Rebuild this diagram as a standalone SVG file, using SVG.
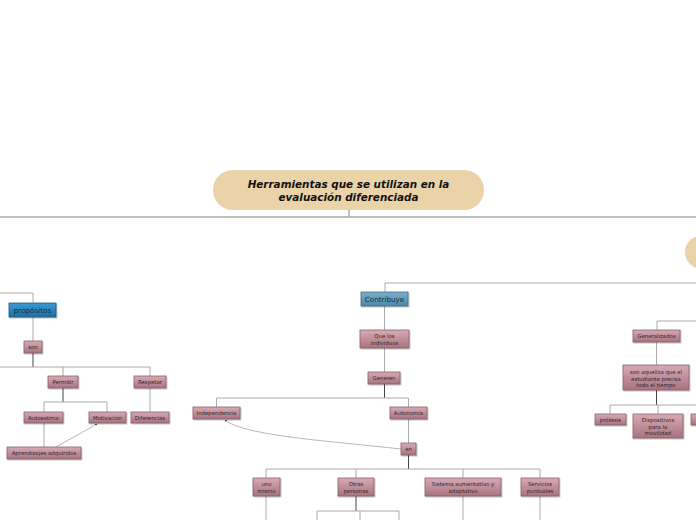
<svg xmlns="http://www.w3.org/2000/svg" width="696" height="520" viewBox="0 0 696 520">
<defs>
<linearGradient id="pink" x1="0" y1="0" x2="0" y2="1"><stop offset="0" stop-color="#d6abb5"/><stop offset="1" stop-color="#a9727f"/></linearGradient>
<linearGradient id="blue" x1="0" y1="0" x2="0" y2="1"><stop offset="0" stop-color="#3a9ad3"/><stop offset="1" stop-color="#1c6fa6"/></linearGradient>
<linearGradient id="blue2" x1="0" y1="0" x2="0" y2="1"><stop offset="0" stop-color="#7aaecb"/><stop offset="1" stop-color="#4d88a8"/></linearGradient>
<filter id="sh" x="-20%" y="-20%" width="140%" height="150%"><feDropShadow dx="0.8" dy="1" stdDeviation="0.6" flood-color="#000" flood-opacity="0.3"/></filter>
<marker id="arr" viewBox="0 0 6 6" refX="5" refY="3" markerWidth="4" markerHeight="4" orient="auto"><path d="M0 0 L6 3 L0 6 z" fill="#444"/></marker>
<style>
.ln{fill:none;stroke:#aaa;stroke-width:1}
.dk{fill:none;stroke:#444;stroke-width:1}
.main{fill:none;stroke:#aaa;stroke-width:1.5}
.thin{fill:none;stroke:#888;stroke-width:0.6}
.pk{fill:url(#pink);stroke:#87606b;stroke-width:0.8;filter:url(#sh)}
.bl{fill:url(#blue);stroke:#1d5a80;stroke-width:0.8;filter:url(#sh)}
.bl2{fill:url(#blue2);stroke:#3e6e88;stroke-width:0.8;filter:url(#sh)}
.t{font-family:"DejaVu Sans",Verdana,sans-serif;font-size:5.4px;fill:#2a2a2a;text-anchor:middle}
.tb{font-family:"DejaVu Sans",Verdana,sans-serif;font-size:7.2px;fill:#1a2a3a;text-anchor:middle}
.title{font-family:"DejaVu Sans",Verdana,sans-serif;font-size:10.4px;font-weight:bold;font-style:italic;fill:#111;text-anchor:middle}
</style>
</defs>
<rect width="696" height="520" fill="#fff"/>
<g id="connectors">
<path class="main" d="M0 217 H696 M349 210 V217"/>
<path class="ln" d="M0 293 H33 V303 M33 317 V341"/>
<path class="dk" d="M33 353 V367"/>
<path class="ln" d="M0 367 H150 M63 367 V376 M150 367 V376"/>
<path class="dk" d="M63 388 V402"/>
<path class="ln" d="M44 402 H107 M44 402 V412 M107 402 V412 M150 388 V412 M44 423 V447"/>
<path class="thin" d="M56 447 L97 424" marker-end="url(#arr)"/>
<path class="ln" d="M385 283 H696 M385 283 V292 M384.5 306 V330 M384.5 348 V372"/>
<path class="dk" d="M384.5 384 V398"/>
<path class="ln" d="M216.5 398 H408.5 M216.5 398 V407 M408.5 398 V407 M408.5 419 V443"/>
<path class="thin" d="M401 449 C330 441 245 436 225 420" marker-end="url(#arr)"/>
<path class="dk" d="M408.5 455 V469"/>
<path class="ln" d="M266 469 H540 M266 469 V478 M356 469 V478 M463 469 V478 M540 469 V478 M266 496 V520 M463 496 V520 M540 496 V520"/>
<path class="dk" d="M356 496 V511"/>
<path class="ln" d="M317 511 H399 M317 511 V520 M360 511 V520 M399 511 V520"/>
<path class="ln" d="M657 321 H696 M657 321 V330 M656.5 342 V365"/>
<path class="dk" d="M656.5 390 V405"/>
<path class="ln" d="M610 405 H696 M610 405 V414 M658 405 V414"/>
</g>
<g id="title"><rect x="213" y="170" width="271" height="40" rx="20" fill="#ead3a8"/>
<text class="title" x="348.5" y="188">Herramientas que se utilizan en la</text>
<text class="title" x="348.5" y="201">evaluación diferenciada</text></g>
<g id="bubble-right"><rect x="685" y="236" width="60" height="32" rx="16" fill="#ead3a8" filter="url(#sh)"/></g>
<g id="propositos"><rect class="bl" x="9" y="303" width="47" height="14"/><text class="tb" x="32.5" y="312.5">propósitos</text></g>
<g id="son"><rect class="pk" x="24" y="341" width="18" height="12"/><text class="t" x="33" y="349">son</text></g>
<g id="permitir"><rect class="pk" x="48" y="376" width="30" height="12"/><text class="t" x="63" y="384">Permitir</text></g>
<g id="respetar"><rect class="pk" x="134" y="376" width="32" height="12"/><text class="t" x="150" y="384">Respetar</text></g>
<g id="autoestima"><rect class="pk" x="24" y="412" width="39" height="11"/><text class="t" x="43.5" y="419.5">Autoestima</text></g>
<g id="motivacion"><rect class="pk" x="89" y="412" width="37" height="11"/><text class="t" x="107.5" y="419.5">Motivación</text></g>
<g id="diferencias"><rect class="pk" x="131" y="412" width="38" height="11"/><text class="t" x="150" y="419.5">Diferencias</text></g>
<g id="aprendizajes"><rect class="pk" x="7" y="447" width="74" height="12"/><text class="t" x="44" y="455">Aprendizajes adquiridos</text></g>
<g id="contribuye"><rect class="bl2" x="361" y="292" width="47" height="14"/><text class="tb" x="384.5" y="301.5">Contribuye</text></g>
<g id="que-los"><rect class="pk" x="360" y="330" width="49" height="18"/><text class="t" x="384.5" y="338">Que los</text><text class="t" x="384.5" y="345">individuos</text></g>
<g id="generen"><rect class="pk" x="368" y="372" width="32" height="12"/><text class="t" x="384" y="380">Generen</text></g>
<g id="independencia"><rect class="pk" x="193" y="407" width="47" height="12"/><text class="t" x="216.5" y="415">Independencia</text></g>
<g id="autonomia"><rect class="pk" x="390" y="407" width="37" height="12"/><text class="t" x="408.5" y="415">Autonomía</text></g>
<g id="en"><rect class="pk" x="401" y="443" width="15" height="12"/><text class="t" x="408.5" y="451">en</text></g>
<g id="uno-mismo"><rect class="pk" x="253" y="478" width="27" height="18"/><text class="t" x="266.5" y="486">uno</text><text class="t" x="266.5" y="493">mismo</text></g>
<g id="otras-personas"><rect class="pk" x="338" y="478" width="36" height="18"/><text class="t" x="356" y="486">Otras</text><text class="t" x="356" y="493">personas</text></g>
<g id="sistema"><rect class="pk" x="425" y="478" width="76" height="18"/><text class="t" x="463" y="486">Sistema aumentativo y</text><text class="t" x="463" y="493">adaptativo</text></g>
<g id="servicios"><rect class="pk" x="521" y="478" width="38" height="18"/><text class="t" x="540" y="486">Servicios</text><text class="t" x="540" y="493">puntuales</text></g>
<g id="generalizados"><rect class="pk" x="633" y="330" width="47" height="12"/><text class="t" x="656.5" y="338">Generalizados</text></g>
<g id="son-aquellos"><rect class="pk" x="623" y="365" width="66" height="25"/><text class="t" x="656" y="374">son aquellos que el</text><text class="t" x="656" y="380.5">estudiante precisa</text><text class="t" x="656" y="387">todo el tiempo</text></g>
<g id="protesis"><rect class="pk" x="595" y="414" width="31" height="11"/><text class="t" x="610.5" y="421.5">prótesis</text></g>
<g id="dispositivos"><rect class="pk" x="633" y="414" width="50" height="24"/><text class="t" x="658" y="422">Dispositivos</text><text class="t" x="658" y="428.5">para la</text><text class="t" x="658" y="435">movilidad</text></g>
<g id="partial-right"><rect class="pk" x="691" y="414" width="12" height="11"/></g>
</svg>
